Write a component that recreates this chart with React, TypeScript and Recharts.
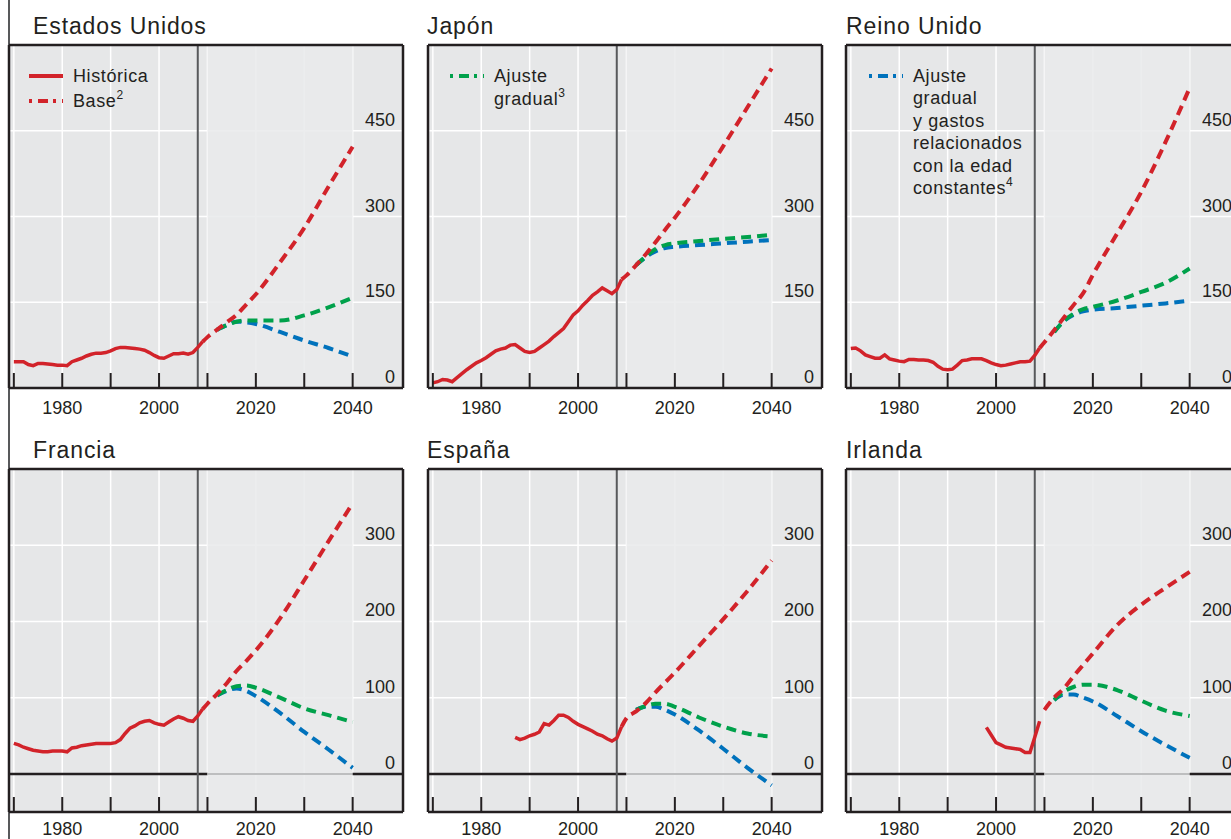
import React from 'react';
import {
  LineChart,
  Line,
  XAxis,
  YAxis,
  CartesianGrid,
  ReferenceLine,
  ReferenceArea,
} from 'recharts';

const RED = '#d2232a';
const GREEN = '#00a14b';
const BLUE = '#0072bc';
const BG = '#e6e7e8';
const INK = '#231f20';
const FONT = '"Liberation Sans", Arial, sans-serif';

// años de las proyecciones
const projYears = [2009, 2010, 2012, 2014, 2016, 2018, 2020, 2025, 2030, 2035, 2040];
const decadeTicks = [1970, 1980, 1990, 2000, 2010, 2020, 2030, 2040];

// Estados Unidos
const usHistStart = 1970;
const usHist = [46, 46, 46, 41, 39, 43, 43, 42, 41, 40, 40, 39, 46, 49, 52, 56, 59, 61, 61, 62, 65, 69, 71, 71, 70, 69, 68, 66, 62, 57, 53, 52, 56, 60, 60, 61, 59, 62, 71, 81];
const usBase = [81, 89, 102, 115, 128, 146, 164, 220, 280, 352, 422];
const usGradual = [null, null, 102, 110, 116, 118, 118, 118, 127, 141, 158];
const usConstant = [null, null, 102, 110, 116, 115, 112, 98, 83, 70, 55];

// Japón
const jpHistStart = 1970;
const jpHist = [9, 11, 15, 14, 11, 18, 25, 32, 38, 44, 48, 53, 59, 65, 68, 70, 75, 76, 70, 64, 62, 64, 70, 76, 82, 90, 97, 104, 116, 128, 135, 145, 153, 162, 168, 175, 170, 165, 172, 190];
const jpBase = [190, 197, 215, 234, 255, 277, 298, 357, 423, 491, 559];
const jpGradual = [null, null, 215, 230, 243, 250, 253, 257, 261, 264, 268];
const jpConstant = [null, null, 215, 229, 239, 245, 247, 250, 253, 256, 259];

// Reino Unido
const ukHistStart = 1970;
const ukHist = [69, 70, 65, 58, 55, 52, 52, 58, 51, 49, 47, 46, 50, 50, 49, 49, 48, 45, 38, 33, 32, 33, 40, 48, 49, 51, 51, 51, 48, 44, 41, 39, 40, 42, 44, 46, 46, 47, 57, 70];
const ukBase = [70, 80, 101, 123, 145, 166, 198, 270, 343, 430, 525];
const ukGradual = [null, null, 98, 117, 130, 138, 142, 153, 168, 184, 209];
const ukConstant = [null, null, 98, 117, 128, 134, 137, 140, 144, 148, 153];

// Francia
const frHistStart = 1970;
const frHist = [40, 38, 35, 33, 31, 30, 29, 29, 30, 30, 30, 29, 34, 35, 37, 38, 39, 40, 40, 40, 40, 41, 45, 53, 60, 63, 67, 69, 70, 67, 65, 64, 68, 72, 75, 73, 70, 69, 76, 85];
const frBase = [85, 92, 105, 119, 135, 148, 162, 204, 254, 305, 355];
const frGradual = [null, null, 103, 110, 115, 116, 113, 100, 86, 77, 68];
const frConstant = [null, null, 103, 109, 112, 109, 102, 80, 55, 32, 8];

// España
const esHistStart = 1987;
const esHist = [48, 45, 47, 50, 52, 55, 66, 64, 70, 77, 77, 74, 69, 65, 62, 59, 56, 52, 50, 46, 43, 47, 62];
const esBase = [62, 73, 82, 93, 107, 120, 133, 168, 203, 240, 280];
const esGradual = [null, null, 84, 89, 92, 92, 88, 74, 62, 53, 49];
const esConstant = [null, null, 84, 88, 88, 84, 78, 57, 33, 8, -15];

// Irlanda
const ieHistStart = 1998;
const ieHist = [61, 51, 41, 38, 35, 34, 33, 32, 28, 28, 48, 69];
const ieBase = [null, 84, 100, 112, 128, 143, 158, 195, 222, 244, 265];
const ieGradual = [null, null, 97, 108, 114, 117, 117, 110, 96, 83, 76];
const ieConstant = [null, null, 97, 104, 104, 100, 95, 76, 56, 38, 21];

const topTicks = [0, 150, 300, 450];
const bottomTicks = [0, 100, 200, 300];

function buildRows(histStart: number, hist: number[], base: any[], gradual: any[], constant: any[]) {
  const rows = new Map<number, any>();
  const get = (y: number) => {
    if (!rows.has(y)) rows.set(y, { year: y });
    return rows.get(y);
  };
  hist.forEach((v, i) => {
    get(histStart + i).hist = v;
  });
  projYears.forEach((y, i) => {
    const r = get(y);
    if (base[i] != null) r.base = base[i];
    if (gradual[i] != null) r.gradual = gradual[i];
    if (constant[i] != null) r.constant = constant[i];
  });
  return [...rows.values()].sort((a, b) => a.year - b.year);
}

const makeXTick = (labelDy: number) => ({ x, y, payload }: any) => (
  <g>
    <line x1={x} x2={x} y1={y} y2={y - 15} stroke={INK} strokeWidth={2} />
    {payload.value % 20 === 0 && (
      <text x={x} y={y + labelDy} textAnchor="middle" fontSize={18} fill={INK} fontFamily={FONT}>
        {payload.value}
      </text>
    )}
  </g>
);

const YTick = ({ x, y, payload }: any) => (
  <text x={x - 8} y={y - 5} textAnchor="end" fontSize={18} fill={INK} fontFamily={FONT}>
    {payload.value}
  </text>
);

const PLOT_W = 393;
const PLOT_H = 343;
const PAD = 2;
const X_MIN = 1969;
const X_MAX = 2050.4;
const DASH = '10 6';

function Panel({ left, top, rows, domain, ticks, zeroLine, labelDy }: any) {
  const XTick = makeXTick(labelDy);
  return (
    <div style={{ position: 'absolute', left: left - PAD - 1, top: top - PAD - 1 }}>
      <LineChart
        width={PLOT_W + PAD * 2 + 2}
        height={PLOT_H + PAD + 1 + 34}
        data={rows}
        margin={{ top: PAD, right: PAD, left: PAD, bottom: 0 }}
      >
        <CartesianGrid fill={BG} fillOpacity={1} stroke="#ffffff" strokeWidth={1.5} horizontalValues={ticks} verticalValues={decadeTicks} />
        <ReferenceArea x1={2010} x2={2040} fill="#e9eaeb" fillOpacity={0.85} stroke="none" />
        {zeroLine && (
          <ReferenceLine segment={[{ x: X_MIN, y: 0 }, { x: 2010, y: 0 }]} stroke={INK} strokeWidth={2.5} />
        )}
        {zeroLine && (
          <ReferenceLine segment={[{ x: 2010, y: 0 }, { x: 2040, y: 0 }]} stroke="#bdbebf" strokeWidth={2} />
        )}
        {zeroLine && (
          <ReferenceLine segment={[{ x: 2040, y: 0 }, { x: X_MAX, y: 0 }]} stroke={INK} strokeWidth={2.5} />
        )}
        <ReferenceLine x={2008} stroke="#58595b" strokeWidth={2} />
        <Line dataKey="constant" stroke={BLUE} strokeWidth={4} strokeDasharray={DASH} dot={false} type="monotone" connectNulls isAnimationActive={false} />
        <Line dataKey="gradual" stroke={GREEN} strokeWidth={4} strokeDasharray={DASH} dot={false} type="monotone" connectNulls isAnimationActive={false} />
        <Line dataKey="base" stroke={RED} strokeWidth={4} strokeDasharray={DASH} dot={false} type="monotone" connectNulls isAnimationActive={false} />
        <Line dataKey="hist" stroke={RED} strokeWidth={3.5} dot={false} type="linear" connectNulls isAnimationActive={false} />
        <XAxis
          dataKey="year"
          type="number"
          domain={[X_MIN, X_MAX]}
          ticks={decadeTicks}
          interval={0}
          height={34}
          tickSize={0}
          tickMargin={0}
          tickLine={false}
          tick={<XTick />}
          axisLine={{ stroke: INK, strokeWidth: 2.5 }}
          allowDataOverflow
        />
        <XAxis
          xAxisId="t"
          orientation="top"
          dataKey="year"
          type="number"
          domain={[X_MIN, X_MAX]}
          height={1}
          tick={false}
          tickLine={false}
          axisLine={{ stroke: INK, strokeWidth: 2.5 }}
        />
        <YAxis
          orientation="right"
          mirror
          width={1}
          domain={domain}
          ticks={ticks}
          interval={0}
          tickSize={0}
          tickMargin={0}
          tickLine={false}
          tick={<YTick />}
          axisLine={{ stroke: INK, strokeWidth: 2.5 }}
          allowDataOverflow
        />
        <YAxis
          yAxisId="l"
          orientation="left"
          width={1}
          domain={domain}
          tick={false}
          tickLine={false}
          axisLine={{ stroke: INK, strokeWidth: 2.5 }}
        />
      </LineChart>
    </div>
  );
}

const panels = [
  { title: 'Estados Unidos', titleX: 33, left: 9, top: 45, rows: buildRows(usHistStart, usHist, usBase, usGradual, usConstant), domain: [0, 600], ticks: topTicks, zeroLine: false, labelDy: 26 },
  { title: 'Japón', titleX: 427, left: 427.5, top: 45, rows: buildRows(jpHistStart, jpHist, jpBase, jpGradual, jpConstant), domain: [0, 600], ticks: topTicks, zeroLine: false, labelDy: 26 },
  { title: 'Reino Unido', titleX: 846, left: 846, top: 45, rows: buildRows(ukHistStart, ukHist, ukBase, ukGradual, ukConstant), domain: [0, 600], ticks: topTicks, zeroLine: false, labelDy: 26 },
  { title: 'Francia', titleX: 33, left: 9, top: 469, rows: buildRows(frHistStart, frHist, frBase, frGradual, frConstant), domain: [-50, 400], ticks: bottomTicks, zeroLine: true, labelDy: 22.5 },
  { title: 'España', titleX: 427, left: 427.5, top: 469, rows: buildRows(esHistStart, esHist, esBase, esGradual, esConstant), domain: [-50, 400], ticks: bottomTicks, zeroLine: true, labelDy: 22.5 },
  { title: 'Irlanda', titleX: 846, left: 846, top: 469, rows: buildRows(ieHistStart, ieHist, ieBase, ieGradual, ieConstant), domain: [-50, 400], ticks: bottomTicks, zeroLine: true, labelDy: 22.5 },
];

const Sup = ({ children }: any) => (
  <tspan fontSize={12} dy={-8}>{children}</tspan>
);

const LEG = { fontSize: 18, letterSpacing: 0.6 } as const;

export default function App() {
  return (
    <div style={{ position: 'absolute', left: 0, top: 0, width: 1231, height: 839, overflow: 'hidden', background: '#fff', fontFamily: FONT }}>
      <div style={{ position: 'absolute', left: 8, top: 0, width: 1.5, height: 839, background: '#58595b' }} />
      {panels.map((p) => (
        <Panel key={p.title} {...p} />
      ))}
      <svg width={1231} height={839} style={{ position: 'absolute', left: 0, top: 0, pointerEvents: 'none' }} fontFamily={FONT} fill={INK}>
        {panels.map((p) => (
          <text key={p.title} x={p.titleX} y={p.top < 100 ? 33.5 : 457.5} fontSize={23} letterSpacing={0.9}>
            {p.title}
          </text>
        ))}
        {/* leyenda Estados Unidos */}
        <line x1={29} x2={63} y1={76} y2={76} stroke={RED} strokeWidth={4} />
        <text x={73} y={82} {...LEG}>Histórica</text>
        <line x1={29} x2={63} y1={101} y2={101} stroke={RED} strokeWidth={4} strokeDasharray="3 6 10 5" />
        <text x={73} y={107} {...LEG}>Base<Sup>2</Sup></text>
        {/* leyenda Japón */}
        <line x1={450} x2={484} y1={76} y2={76} stroke={GREEN} strokeWidth={4} strokeDasharray="3 6 10 5" />
        <text x={494} y={82} {...LEG}>Ajuste</text>
        <text x={494} y={105} {...LEG}>gradual<Sup>3</Sup></text>
        {/* leyenda Reino Unido */}
        <line x1={869} x2={903} y1={76} y2={76} stroke={BLUE} strokeWidth={4} strokeDasharray="3 6 10 5" />
        {['Ajuste', 'gradual', 'y gastos', 'relacionados', 'con la edad'].map((t, i) => (
          <text key={t} x={913} y={82 + i * 22.4} {...LEG}>{t}</text>
        ))}
        <text x={913} y={82 + 5 * 22.4} {...LEG}>constantes<Sup>4</Sup></text>
      </svg>
    </div>
  );
}
